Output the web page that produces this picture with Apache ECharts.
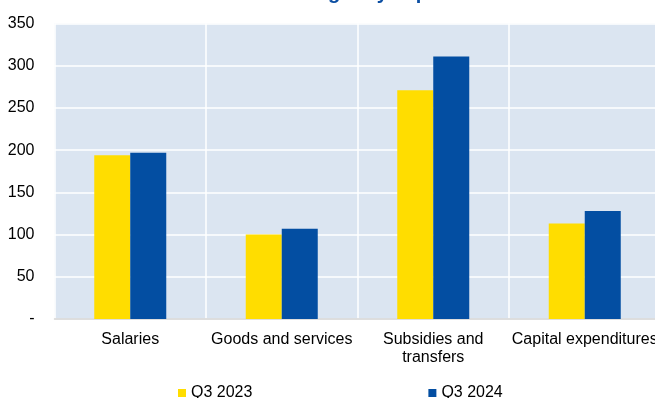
<!DOCTYPE html>
<html>
<head>
<meta charset="utf-8">
<style>
  html, body { margin: 0; padding: 0; background: #ffffff; }
  #chart { width: 655px; height: 398px; }
</style>
<script src="https://cdn.jsdelivr.net/npm/echarts@6/dist/echarts.min.js"></script>
</head>
<body>
<div id="chart"></div>
<script>
// Expenditure categories and quarterly amounts
const categories = ['Salaries', 'Goods and services', 'Subsidies and\ntransfers', 'Capital expenditures'];
const q3_2023 = [194, 100, 271, 113];
const q3_2024 = [197, 107, 311, 128];
const seriesNames = ['Q3 2023', 'Q3 2024'];
const yMin = 0;
const yMax = 350;
const yStep = 50;
const titleText = 'Budgetary expenditures';

const FONT = "'Liberation Sans', Arial, sans-serif";
const chart = echarts.init(document.getElementById('chart'), null, { renderer: 'canvas' });

chart.setOption({
  animation: false,
  backgroundColor: '#ffffff',
  textStyle: { fontFamily: FONT },
  title: {
    text: titleText,
    left: 289,
    top: -17,
    padding: 0,
    textStyle: { fontFamily: FONT, fontSize: 20, fontWeight: 'bold', color: '#0b4ea2' }
  },
  legend: {
    data: seriesNames,
    left: 178,
    top: 385,
    itemWidth: 8,
    itemHeight: 8,
    itemGap: 176,
    icon: 'rect',
    padding: 0,
    textStyle: { fontFamily: FONT, fontSize: 16, color: '#000000' }
  },
  grid: {
    left: 54.5,
    top: 23.5,
    right: -5.5,
    bottom: 79,
    show: true,
    backgroundColor: '#dbe5f1',
    borderWidth: 0,
    containLabel: false,
    outerBoundsMode: 'none'
  },
  xAxis: {
    type: 'category',
    data: categories,
    axisTick: { show: false },
    axisLine: { show: true, lineStyle: { color: '#d3d3d3', width: 1.5 } },
    splitLine: { show: true, lineStyle: { color: '#ffffff', width: 1.5 } },
    axisLabel: {
      interval: 0,
      fontFamily: FONT,
      fontSize: 16,
      lineHeight: 18,
      color: '#000000',
      margin: 12
    }
  },
  yAxis: {
    type: 'value',
    min: yMin,
    max: yMax,
    interval: yStep,
    axisLine: { show: false },
    axisTick: { show: false },
    splitLine: { show: true, lineStyle: { color: '#ffffff', width: 1.5 } },
    axisLabel: {
      fontFamily: FONT,
      fontSize: 16,
      color: '#000000',
      margin: 20,
      formatter: v => (v === 0 ? '-' : String(v))
    }
  },
  series: [
    {
      name: seriesNames[0],
      type: 'bar',
      data: q3_2023,
      barWidth: 36,
      barGap: '0%',
      itemStyle: { color: '#ffdd00' }
    },
    {
      name: seriesNames[1],
      type: 'bar',
      data: q3_2024,
      barWidth: 36,
      barGap: '0%',
      itemStyle: { color: '#034ea2' }
    }
  ]
});
</script>
</body>
</html>
